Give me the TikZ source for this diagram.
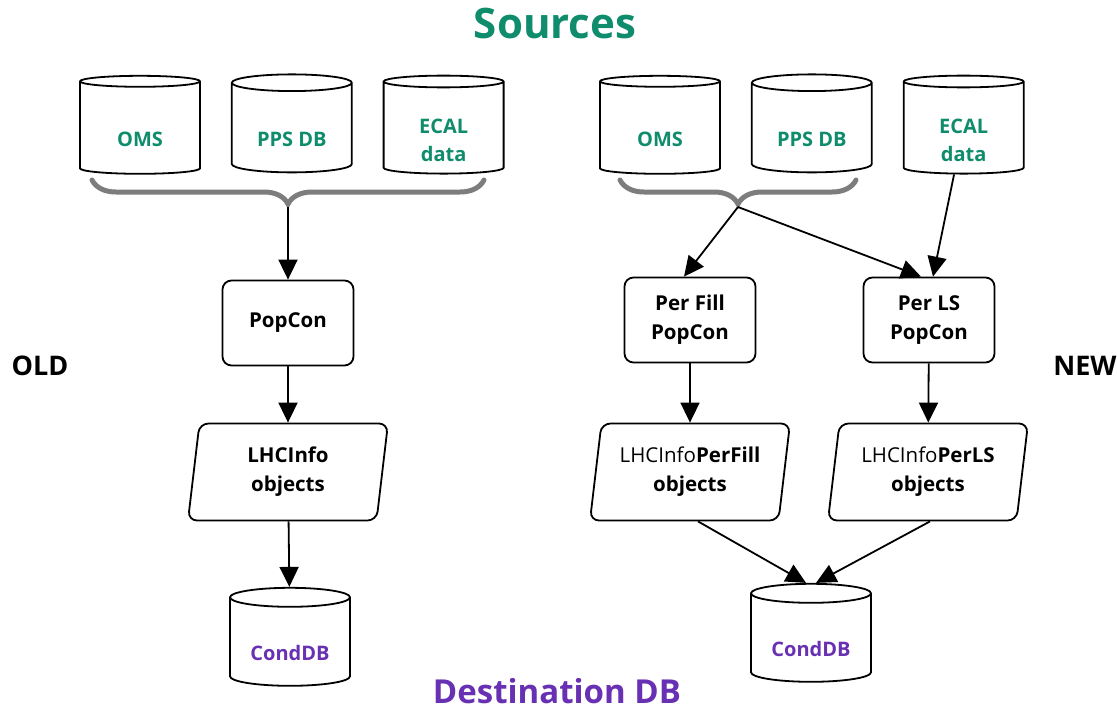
\documentclass[tikz,border=0pt]{standalone}
\usepackage{fontspec}
\setmainfont{Open Sans}
\usetikzlibrary{arrows.meta,positioning,shapes.geometric,decorations.pathreplacing}

\definecolor{srcgreen}{RGB}{14,140,108}
\definecolor{dstpurple}{RGB}{104,48,178}
\definecolor{bracegray}{RGB}{125,125,125}

\begin{document}
\begin{tikzpicture}[x=1pt, y=-1pt, >={Triangle[length=20pt,width=19pt]},
  line width=1.8pt,
  db/.style={draw, cylinder, shape border rotate=90, aspect=0.24,
    minimum width=120pt, minimum height=98pt, inner sep=0pt, text height=37pt,
    font=\fontsize{20}{28}\selectfont\bfseries, align=center},
  dbtwo/.style={db, text height=67pt},
  proc/.style={draw, rounded corners=9pt, minimum width=131pt, minimum height=85pt,
    font=\fontsize{20.5}{29}\selectfont\bfseries, align=center},
  obj/.style={draw, trapezium, trapezium left angle=77, trapezium right angle=103,
    trapezium stretches body, rounded corners=9pt, minimum width=200pt, minimum height=97pt,
    inner sep=0pt, font=\fontsize{20.5}{29}\selectfont, align=center},
  bigbrace/.style={draw=bracegray, line width=5pt, line cap=round,
    decorate, decoration={brace, mirror, amplitude=24pt}},
  title/.style={inner sep=0pt, font=\fontsize{42}{46}\selectfont\bfseries},
  side/.style={font=\fontsize{27}{30}\selectfont\bfseries}]
  \useasboundingbox (0,0) rectangle (1117,710);

  \node[title, text=srcgreen] (sources) at (555,23) {Sources};
  \node[title, text=dstpurple, font=\fontsize{33}{36}\selectfont\bfseries] (dest) at (557,691) {Destination DB};
  \node[side] (old) at (40,366) {OLD};
  \node[side] (new) at (1085,366) {NEW};

  % old chain
  \node[db, text=srcgreen] (oms1) at (140,128) {OMS};
  \node[db, text=srcgreen, right=30pt of oms1] (pps1) {PPS DB};
  \node[dbtwo, text=srcgreen, right=30pt of pps1] (ecal1) {ECAL\\data};
  \draw[bigbrace] (92,180) -- (484,180);
  \coordinate (tip1) at (288,207);
  \node[proc] (popcon) at (288,323) {PopCon};
  \node[obj, font=\fontsize{20.5}{29}\selectfont\bfseries] (info) at (288,472) {LHCInfo\\objects};
  \node[db, text=dstpurple] (cond1) at (290,642) {CondDB};
  \draw[->] (tip1) -- (popcon);
  \draw[->] (popcon) -- (info);
  \draw[->] (info) -- (cond1);

  % new chain
  \node[db, text=srcgreen] (oms2) at (660,128) {OMS};
  \node[db, text=srcgreen, right=30pt of oms2] (pps2) {PPS DB};
  \node[dbtwo, text=srcgreen, right=30pt of pps2] (ecal2) {ECAL\\data};
  \draw[bigbrace] (620,180) -- (856,180);
  \coordinate (tip2) at (738,207);
  \node[proc] (perfill) at (690,320) {Per Fill\\PopCon};
  \node[proc] (perls) at (929,320) {Per LS\\PopCon};
  \node[obj] (fillobj) at (690,472) {LHCInfo\textbf{PerFill}\\\textbf{objects}};
  \node[obj] (lsobj) at (928,472) {LHCInfo\textbf{PerLS}\\\textbf{objects}};
  \node[db, text=dstpurple] (cond2) at (811,638) {CondDB};
  \draw[->] (tip2) -- ([xshift=-6pt]perfill.north);
  \draw[->] (tip2) -- ([xshift=-8pt]perls.north);
  \draw[->] (ecal2) -- ([xshift=4pt]perls.north);
  \draw[->] (perfill) -- (fillobj);
  \draw[->] (perls) -- (lsobj);
  \draw[->] ([xshift=8pt]fillobj.south) -- ([xshift=-5pt]cond2.north);
  \draw[->] ([xshift=2pt]lsobj.south) -- ([xshift=5pt]cond2.north);
\end{tikzpicture}
\end{document}
